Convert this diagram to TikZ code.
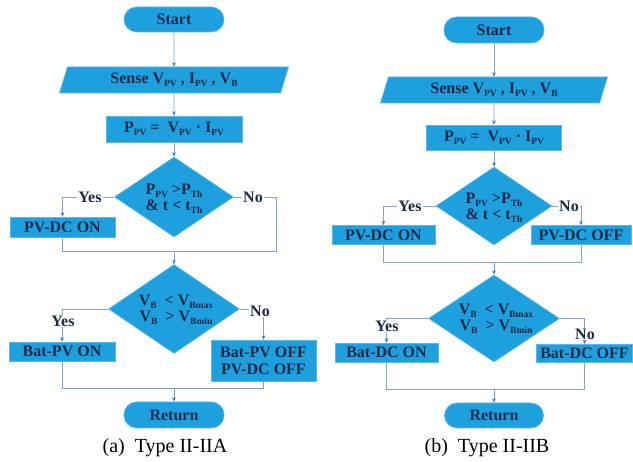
\documentclass[tikz,border=0pt]{standalone}
\usepackage{fontspec}
\setmainfont{Liberation Serif}
\usetikzlibrary{shapes.geometric,arrows.meta}
\definecolor{boxfill}{HTML}{1EA0DE}
\definecolor{boxedge}{HTML}{5BB8E6}
\definecolor{txtc}{HTML}{1B2A48}
\definecolor{linec}{HTML}{8AA2BA}
\definecolor{arrc}{HTML}{3A7CC0}
\newcommand{\sbs}[1]{\raisebox{-3pt}{\fontsize{9.5}{10}\selectfont #1}}
\newcommand{\mainf}{\bfseries\fontsize{16}{15}\selectfont}
\newcommand{\diaf}{\bfseries\fontsize{16}{16.5}\selectfont}
\newcommand{\capf}{\fontsize{20}{22}\selectfont}
\begin{document}
\begin{tikzpicture}[x=1pt,y=-1pt,
  box/.style={rectangle, fill=boxfill, draw=boxedge, line width=0.6pt, inner sep=0pt, font=\mainf, text=txtc, align=center},
  pill/.style={box, rounded corners=12.5pt},
  para/.style={trapezium, trapezium left angle=60, trapezium right angle=120, trapezium stretches body, fill=boxfill, draw=boxedge, line width=0.6pt, inner sep=0pt, font=\mainf, text=txtc},
  dia/.style={diamond, fill=boxfill, draw=boxedge, line width=0.6pt, inner sep=0pt},
  dtext/.style={font=\diaf, text=txtc, align=center, inner sep=0pt},
  conn/.style={draw=linec, line width=0.6pt},
  arr/.style={conn, -{Stealth[length=4.5pt,width=3.5pt,color=arrc]}},
  lbl/.style={fill=white, inner sep=1pt, font=\mainf, text=txtc},
  captxt/.style={font=\capf, text=black}]
\useasboundingbox (0,0) rectangle (633,462);

% ---------------- (a) ----------------
\node[pill, minimum width=100pt, minimum height=25pt] (sA) at (174,19.5) {Start};
\node[para, minimum width=229pt, minimum height=26pt] (seA) at (174,80) {Sense V\sbs{PV} , I\sbs{PV} , V\sbs{B}};
\node[box, minimum width=136pt, minimum height=26pt] (pA) at (174,129) {P\sbs{PV} = \ V\sbs{PV} · I\sbs{PV}};
\node[dia, minimum width=119pt, minimum height=80pt] (d1A) at (174,197) {};
\node[dtext] (d1At) at (174,199) {P\sbs{PV} >P\sbs{Th}\\\& t < t\sbs{Th}};
\node[box, minimum width=105pt, minimum height=20pt] (pvonA) at (62.5,227) {PV-DC ON};
\coordinate (c1A) at (276,197);
\coordinate (mA) at (174,251);
\node[dia, minimum width=131pt, minimum height=89pt] (d2A) at (174,309) {};
\node[dtext] (d2At) at (176,310) {V\sbs{B}\ \ < V\sbs{Bmax}\\V\sbs{B}\ \ > V\sbs{Bmin}};
\node[box, minimum width=106pt, minimum height=19pt] (batonA) at (62,351.5) {Bat-PV ON};
\node[box, minimum width=105pt, minimum height=41pt] (batoffA) at (263.5,360.5) {Bat-PV OFF\\[2pt]PV-DC OFF};
\coordinate (mA2) at (174,388);
\node[pill, minimum width=100pt, minimum height=26pt] (retA) at (174,415) {Return};

\draw[arr] (sA) -- (seA);
\draw[arr] (seA) -- (pA);
\draw[arr] (pA) -- (d1A);
\draw[arr] (d1A.west) -| (pvonA);
\draw[conn] (d1A.east) -- (c1A) |- (mA);
\draw[conn] (pvonA) |- (mA);
\draw[arr] (mA) -- (d2A);
\draw[arr] (d2A.west) -| (batonA);
\draw[arr] (d2A.east) -| (batoffA);
\draw[conn] (batonA) |- (mA2);
\draw[conn] (batoffA) |- (mA2);
\draw[arr] (mA2) -- (retA);
\node[lbl] (y1A) at (90,197) {Yes};
\node[lbl] (n1A) at (253,197) {No};
\node[lbl] (y2A) at (63,321) {Yes};
\node[lbl] (n2A) at (260,311) {No};
\node[captxt] (capA) at (165,448) {(a)\hspace{0.5em}Type II-IIA};

% ---------------- (b) ----------------
\node[pill, minimum width=100pt, minimum height=26pt] (sB) at (494,30) {Start};
\node[para, minimum width=227pt, minimum height=26pt] (seB) at (494,90) {Sense V\sbs{PV} , I\sbs{PV} , V\sbs{B}};
\node[box, minimum width=135pt, minimum height=25pt] (pB) at (494,137.5) {P\sbs{PV} = \ V\sbs{PV} · I\sbs{PV}};
\node[dia, minimum width=116pt, minimum height=78pt] (d1B) at (494,206) {};
\node[dtext] (d1Bt) at (494,208) {P\sbs{PV} >P\sbs{Th}\\\& t < t\sbs{Th}};
\node[box, minimum width=103pt, minimum height=19pt] (pvonB) at (383.5,235) {PV-DC ON};
\node[box, minimum width=100pt, minimum height=19pt] (pvoffB) at (581,235) {PV-DC OFF};
\coordinate (mB) at (494,262);
\node[dia, minimum width=131pt, minimum height=87pt] (d2B) at (494,318.5) {};
\node[dtext] (d2Bt) at (496,319) {V\sbs{B}\ \ < V\sbs{Bmax}\\V\sbs{B}\ \ > V\sbs{Bmin}};
\node[box, minimum width=103pt, minimum height=19pt] (batonB) at (386.5,352.5) {Bat-DC ON};
\node[box, minimum width=96pt, minimum height=18pt] (batoffB) at (584.5,353.5) {Bat-DC OFF};
\coordinate (mB2) at (494,389);
\node[pill, minimum width=99pt, minimum height=25pt] (retB) at (494,415.5) {Return};

\draw[arr] (sB) -- (seB);
\draw[arr] (seB) -- (pB);
\draw[arr] (pB) -- (d1B);
\draw[arr] (d1B.west) -| (pvonB);
\draw[arr] (d1B.east) -| (pvoffB);
\draw[conn] (pvonB) |- (mB);
\draw[conn] (pvoffB) |- (mB);
\draw[arr] (mB) -- (d2B);
\draw[arr] (d2B.west) -| (batonB);
\draw[arr] (d2B.east) -| (batoffB);
\draw[conn] (batonB) |- (mB2);
\draw[conn] (batoffB) |- (mB2);
\draw[arr] (mB2) -- (retB);
\node[lbl] (y1B) at (410,206) {Yes};
\node[lbl] (n1B) at (569,206) {No};
\node[lbl] (y2B) at (387,326) {Yes};
\node[lbl] (n2B) at (585,334) {No};
\node[captxt] (capB) at (487,448) {(b)\hspace{0.5em}Type II-IIB};
\end{tikzpicture}
\end{document}
